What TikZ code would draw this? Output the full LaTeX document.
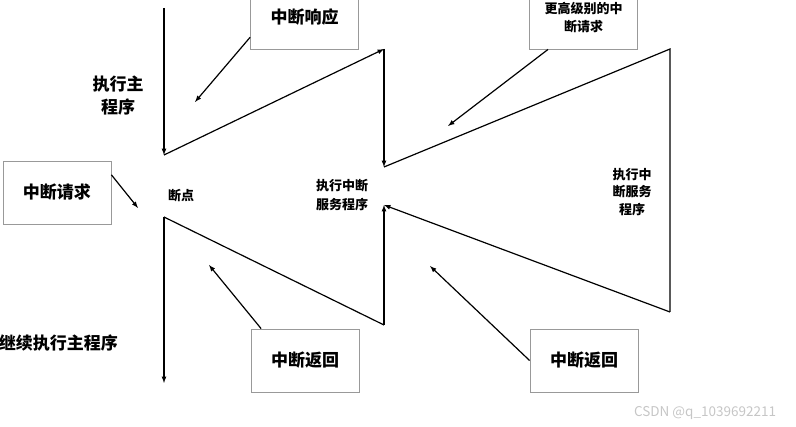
\documentclass[tikz,border=0pt]{standalone}
\usepackage{fontspec}
\newfontfamily\cjk{Noto Sans CJK SC}
\usetikzlibrary{arrows}

\tikzset{
    box/.style={draw=gray!80,line width=0.8pt,minimum width=108pt,minimum height=63pt,inner sep=0pt,
        font=\cjk\bfseries\fontsize{17}{20}\selectfont},
    lbl/.style={align=center,inner sep=0pt,font=\cjk\bfseries\fontsize{17}{23}\selectfont},
    small/.style={align=center,inner sep=0pt,font=\cjk\bfseries\fontsize{13}{19}\selectfont},
    flow/.style={line width=1.2pt,-latex}
}

\begin{document}
\begin{tikzpicture}[x=1pt,y=-1pt]
\useasboundingbox (0,0) rectangle (796,427);

\node[box] (resp) at (304.5,17.5) {中断响应};
\node[box,font=\cjk\bfseries\fontsize{13}{18}\selectfont,align=center] (hireq) at (583.5,17.5) {更高级别的中\\断请求};
\node[box] (req) at (57,192.5) {中断请求};
\node[box] (retA) at (305,360.5) {中断返回};
\node[box] (retB) at (584,360.5) {中断返回};

\node[lbl] (mainlbl) at (118,96) {执行主\\程序};
\node[small] (bplbl) at (181,196) {断点};
\node[small] (isrlbl) at (342,195) {执行中断\\服务程序};
\node[small,font=\cjk\bfseries\fontsize{13}{17.5}\selectfont] (hilbl) at (632,192) {执行中\\断服务\\程序};
\node[lbl,anchor=east] (contlbl) at (118,343) {继续执行主程序};
\node[text=gray!45,inner sep=0pt,font=\cjk\fontsize{13.5}{15}\selectfont] (mark) at (705,413) {CSDN @q\_1039692211};

\coordinate (start) at (164,8);
\coordinate (bp) at (164,155);
\coordinate (isrtop) at (384,49);
\coordinate (isr) at (384,167);
\coordinate (hitop) at (670,49);
\coordinate (hibot) at (670,312);
\coordinate (isrret) at (384,205);
\coordinate (isrbot) at (384,325);
\coordinate (resume) at (164,217);
\coordinate (finish) at (164,383);

\coordinate (respTip) at (195,102);
\coordinate (reqTip) at (138,208);
\coordinate (hireqTip) at (448,126);
\coordinate (retATip) at (209,265);
\coordinate (retBTip) at (430,266);

\draw[flow]
    (start) -- (bp);
\draw[flow] (bp) -- (isrtop);
\draw[flow] (isrtop) -- (isr);
\draw[line width=1.2pt] (isr) -- (hitop) -- (hibot);
\draw[flow] (hibot) -- (isrret);
\draw[line width=1.2pt] (resume) -- (isrbot);
\draw[flow] (isrbot) -- (isrret);
\draw[flow] (resume) -- (finish);

\draw[flow] (resp.200) -- (respTip);
\draw[flow] (req.18) -- (reqTip);
\draw[flow] (hireq.222) -- (hireqTip);
\draw[flow] (retA.144) -- (retATip);
\draw[flow] (retB.west) -- (retBTip);
\end{tikzpicture}
\end{document}
